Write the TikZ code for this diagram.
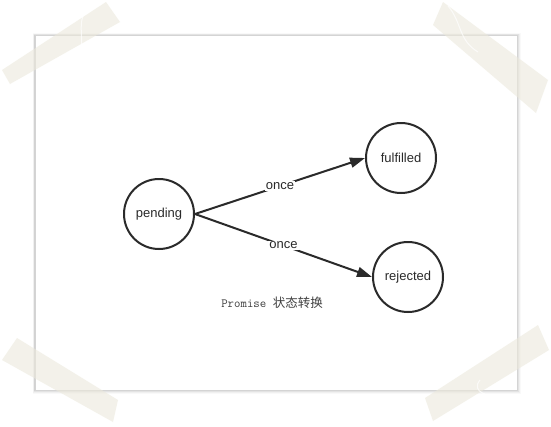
\documentclass[tikz,border=0pt]{standalone}
\usepackage{fontspec}
\setmainfont{Liberation Sans}
\newfontfamily\cjk{Noto Sans CJK SC}
\usetikzlibrary{arrows.meta}
\definecolor{ink}{HTML}{2A2A2A}
\definecolor{tape}{HTML}{ECE9DC}
\definecolor{papline}{HTML}{D4D4D4}
\tikzset{
  state/.style={circle,draw=ink,line width=2pt,minimum size=70pt,inner sep=0pt,
    font=\fontsize{13}{15}\selectfont,text=ink},
  trans/.style={draw=ink,line width=2pt,-{Triangle[length=15pt,width=10pt]}},
  lbl/.style={fill=white,inner sep=1pt,font=\fontsize{13}{15}\selectfont,text=ink},
  tapestyle/.style={fill=tape,fill opacity=0.6,draw=none},
  crinkle/.style={draw=white,opacity=0.7,line width=1pt},
}
\begin{document}
\begin{tikzpicture}[x=1pt,y=-1pt]
\useasboundingbox (0,0) rectangle (551,426);
\fill[white] (0,0) rectangle (551,426);
% paper shadow
\foreach \d/\o in {4/0.025,3/0.035,2/0.05,1/0.07}{
  \fill[black,opacity=\o] (35-\d*0.6,35-\d*0.5) rectangle (517+\d*0.9,390+\d*1.1);
}
\fill[white,draw=papline,line width=0.7pt] (35,35) rectangle (517,390);
% nodes
\node[state] (pe) at (159,214) {pending};
\node[state] (ful) at (401,158) {fulfilled};
\node[state] (rej) at (408,277) {rejected};
% transitions
\draw[trans] (pe.east) -- node[lbl,pos=0.5] (l1) {once} (ful.west);
\draw[trans] (pe.east) -- node[lbl,pos=0.5] (l2) {once} (rej.west);
% caption
\node[text=ink!90,inner sep=0pt] (cap) at (272,303) {{\ttfamily\fontsize{12.5}{14}\selectfont Promise }{\cjk\fontsize{12.5}{14}\selectfont 状态转换}};
% tapes
\fill[tapestyle] (2,70) -- (10,84) -- (120,22) -- (106,2) -- cycle;
\fill[tapestyle] (443,2) -- (433,25) -- (536,113) -- (548,80) -- cycle;
\fill[tapestyle] (17,338) -- (2,360) -- (113,422) -- (118,400) -- cycle;
\fill[tapestyle] (538,325) -- (549,350) -- (433,421) -- (425,398) -- cycle;
% tape crinkles
\draw[crinkle] (92,6) .. controls (72,18) and (88,40) .. (78,62);
\draw[crinkle] (448,6) .. controls (462,22) and (458,40) .. (478,52);
\draw[crinkle] (480,380) .. controls (470,392) and (490,398) .. (500,395);
\end{tikzpicture}
\end{document}
